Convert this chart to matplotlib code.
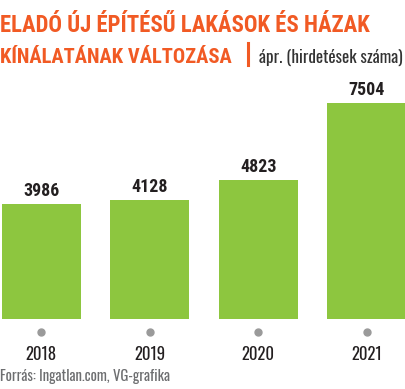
import matplotlib
matplotlib.use('Agg')
import matplotlib.pyplot as plt
from matplotlib.lines import Line2D

years = ['2018', '2019', '2020', '2021']
values = [3986, 4128, 4823, 7504]

plt.rcParams['font.family'] = ['Oswald', 'Roboto Condensed', 'DejaVu Sans']
bold_font = ['Roboto Condensed', 'DejaVu Sans']

orange = '#f15a24'
green = '#8dc63f'
dark = '#231f20'

W, H = 405, 389
fig = plt.figure(figsize=(W / 100, H / 100), dpi=100)
renderer = fig.canvas.get_renderer()


def fit(t, width_px):
    # scale font size so the text is as wide as in the reference
    w = t.get_window_extent(renderer).width
    t.set_fontsize(t.get_fontsize() * width_px / w)
    return t.get_fontsize()


def px(y):
    return 1 - y / H


ax = fig.add_axes([0, px(319), 1, (319 - 60) / H])
x = list(range(len(years)))
ax.bar(x, values, width=0.728, color=green)
ax.set_xlim(-0.382, 3.355)
ax.set_ylim(0, 259 / 0.02875)
ax.axis('off')

labels = []
for xi, v in zip(x, values):
    labels.append(ax.annotate(str(v), (xi, v), xytext=(0, 6), textcoords='offset points',
                              ha='center', va='baseline', fontsize=15,
                              fontweight='bold', family=bold_font, color=dark))
size = fit(labels[0], 36)
for t in labels:
    t.set_fontsize(size)

# grey dots and year labels under the bars
trans = ax.get_xaxis_transform()
ax.plot(x, [-12.7 / 259] * len(x), 'o', color='#9a9a9a', markersize=5,
        transform=trans, clip_on=False, linestyle='none')
labels = []
for xi, yr in zip(x, years):
    labels.append(ax.text(xi, -41 / 259, yr, transform=trans,
                          ha='center', va='baseline', fontsize=17, color=dark))
size = fit(labels[0], 31)
for t in labels:
    t.set_fontsize(size)

t = fig.text(0, px(31.5), 'ELADÓ ÚJ ÉPÍTÉSŰ LAKÁSOK ÉS HÁZAK',
             ha='left', va='baseline', fontsize=20, fontweight='bold',
             family=bold_font, color=orange)
fit(t, 370)
t = fig.text(0, px(63), 'KÍNÁLATÁNAK VÁLTOZÁSA',
             ha='left', va='baseline', fontsize=20, fontweight='bold',
             family=bold_font, color=orange)
fit(t, 232)
fig.add_artist(Line2D([248 / W, 248 / W], [px(43), px(65)], color=orange,
                      linewidth=2.2, transform=fig.transFigure))
t = fig.text(403 / W, px(63), 'ápr. (hirdetések száma)', ha='right',
             va='baseline', fontsize=13, color='#333333')
fit(t, 144)
t = fig.text(0, px(381), 'Forrás: Ingatlan.com, VG-grafika',
             ha='left', va='baseline', fontsize=11, color='#6d6e70')
fit(t, 170)

fig.savefig('out.png', dpi=100)
